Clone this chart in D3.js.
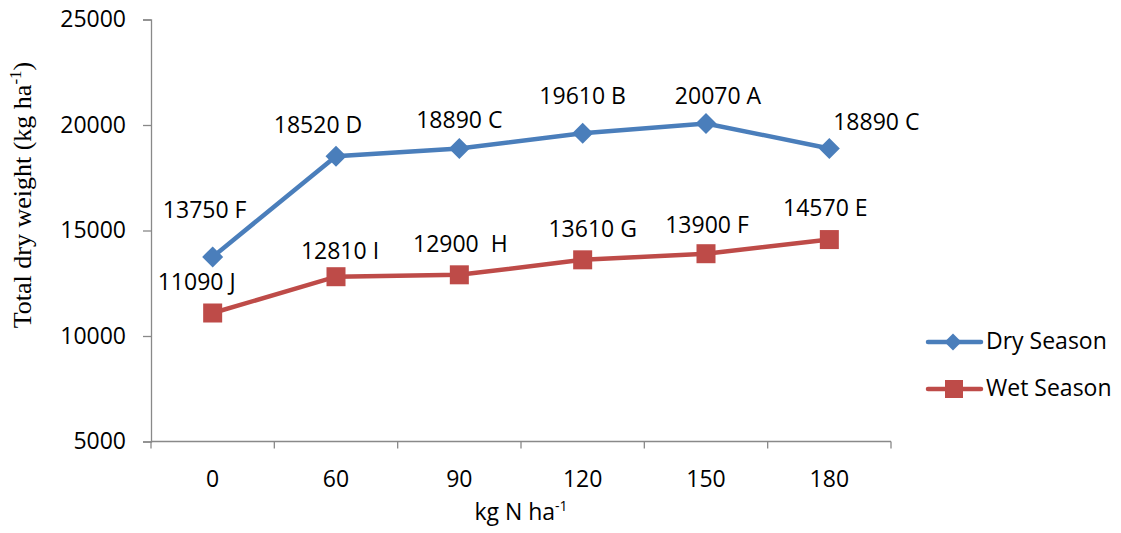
<!DOCTYPE html>
<html><head><meta charset="utf-8">
<script src="https://cdn.jsdelivr.net/npm/d3@7"></script>
<style>body{margin:0;background:#fff;} svg{display:block;}</style>
</head><body>
<svg id="chart" width="1121" height="533"></svg>
<script>
const categories = ["0","60","90","120","150","180"];
const drySeason = [13750,18520,18890,19610,20070,18890];
const wetSeason = [11090,12810,12900,13610,13900,14570];
const dryLabels = ["13750 F","18520 D","18890 C","19610 B","20070 A","18890 C"];
const wetLabels = ["11090 J","12810 I","12900  H","13610 G","13900 F","14570 E"];
const yTicks = [5000,10000,15000,20000,25000];

// label offsets (layout only)
const dryOff = [[-8,-39],[-18,-23],[0,-20],[0,-29],[12,-20],[47,-18]];
const wetOff = [[-16,-23],[4,-18],[1,-23],[10,-23],[1,-21],[-4,-24]];

const svg = d3.select("#chart");
const pLeft=151, pRight=891, pTop=19.5, pBottom=441.5;
const x = d3.scaleBand().domain(categories).range([pLeft,pRight]);
const y = d3.scaleLinear().domain([5000,25000]).range([pBottom,pTop]);
const axisColor="#898989";
const tickFont="'Open Sans', 'Liberation Sans', sans-serif";
const fs = 23;

// y axis
const ya = svg.append("g").attr("transform",`translate(${pLeft},0)`)
  .call(d3.axisLeft(y).tickValues(yTicks).tickSize(8).tickPadding(17).tickFormat(d3.format("d")));
ya.select(".domain").attr("stroke",axisColor).attr("stroke-width",1.3);
ya.selectAll(".tick line").attr("stroke",axisColor).attr("stroke-width",1.3);
ya.selectAll(".tick text").attr("font-family",tickFont).attr("font-size",fs).attr("fill","#000");

// x axis
const xa = svg.append("g").attr("transform",`translate(0,${pBottom})`);
xa.append("line").attr("x1",pLeft).attr("x2",pRight).attr("stroke",axisColor).attr("stroke-width",1.3);
const bounds = categories.map(c=>x(c)).concat([pRight]);
xa.selectAll(".bt").data(bounds).join("line").attr("x1",d=>d).attr("x2",d=>d).attr("y1",0).attr("y2",7)
  .attr("stroke",axisColor).attr("stroke-width",1.3);
xa.selectAll(".lbl").data(categories).join("text")
  .attr("x",d=>x(d)+x.bandwidth()/2).attr("y",45).attr("text-anchor","middle")
  .attr("font-family",tickFont).attr("font-size",fs).text(d=>d);

// x title
const xt = svg.append("text").attr("x",521).attr("y",520).attr("text-anchor","middle")
  .attr("font-family",tickFont).attr("font-size",fs);
xt.append("tspan").text("kg N ha");
xt.append("tspan").attr("dy",-9).attr("font-size",14).text("-1");

// y title
const yt = svg.append("text").attr("transform","translate(31,195) rotate(-90)").attr("text-anchor","middle")
  .attr("font-family","'Liberation Serif','Times New Roman',serif").attr("font-size",26);
yt.append("tspan").text("Total dry weight (kg ha");
yt.append("tspan").attr("dy",-10).attr("font-size",17).text("-1");
yt.append("tspan").attr("dy",10).text(")");

const cx = d => x(d)+x.bandwidth()/2;
const line = d3.line().x((d,i)=>cx(categories[i])).y(d=>y(d));
const blue="#4a7ebb", red="#be4b48";

svg.append("path").datum(wetSeason).attr("d",line).attr("fill","none").attr("stroke",red).attr("stroke-width",4.5);
svg.append("path").datum(drySeason).attr("d",line).attr("fill","none").attr("stroke",blue).attr("stroke-width",4.5);

const diamond = (s)=>`M0,${-s}L${s},0L0,${s}L${-s},0Z`;
svg.selectAll(".wm").data(wetSeason).join("rect")
  .attr("x",(d,i)=>cx(categories[i])-9.5).attr("y",d=>y(d)-9.5).attr("width",19).attr("height",19).attr("fill",red);
svg.selectAll(".dm").data(drySeason).join("path")
  .attr("transform",(d,i)=>`translate(${cx(categories[i])},${y(d)})`).attr("d",diamond(10.5)).attr("fill",blue);

svg.selectAll(".dl").data(drySeason).join("text")
  .attr("x",(d,i)=>cx(categories[i])+dryOff[i][0]).attr("y",(d,i)=>y(d)+dryOff[i][1])
  .attr("text-anchor","middle").attr("font-family",tickFont).attr("font-size",fs).text((d,i)=>dryLabels[i]);
svg.selectAll(".wl").data(wetSeason).join("text")
  .attr("x",(d,i)=>cx(categories[i])+wetOff[i][0]).attr("y",(d,i)=>y(d)+wetOff[i][1])
  .attr("text-anchor","middle").attr("font-family",tickFont).attr("font-size",fs)
  .style("white-space","pre").text((d,i)=>wetLabels[i]);

// legend
const leg = [{n:"Dry Season",c:blue,t:"d",y:342},{n:"Wet Season",c:red,t:"s",y:389}];
leg.forEach(l=>{
  const g = svg.append("g");
  g.append("line").attr("x1",928).attr("x2",981).attr("y1",l.y).attr("y2",l.y).attr("stroke",l.c).attr("stroke-width",4.5).attr("stroke-linecap","round");
  if(l.t==="d") g.append("path").attr("transform",`translate(953,${l.y})`).attr("d",diamond(8.5)).attr("fill",l.c);
  else g.append("rect").attr("x",945).attr("y",l.y-9).attr("width",18).attr("height",18).attr("fill",l.c);
  g.append("text").attr("x",986).attr("y",l.y+7).attr("font-family",tickFont).attr("font-size",fs).text(l.n);
});
</script>
</body></html>
